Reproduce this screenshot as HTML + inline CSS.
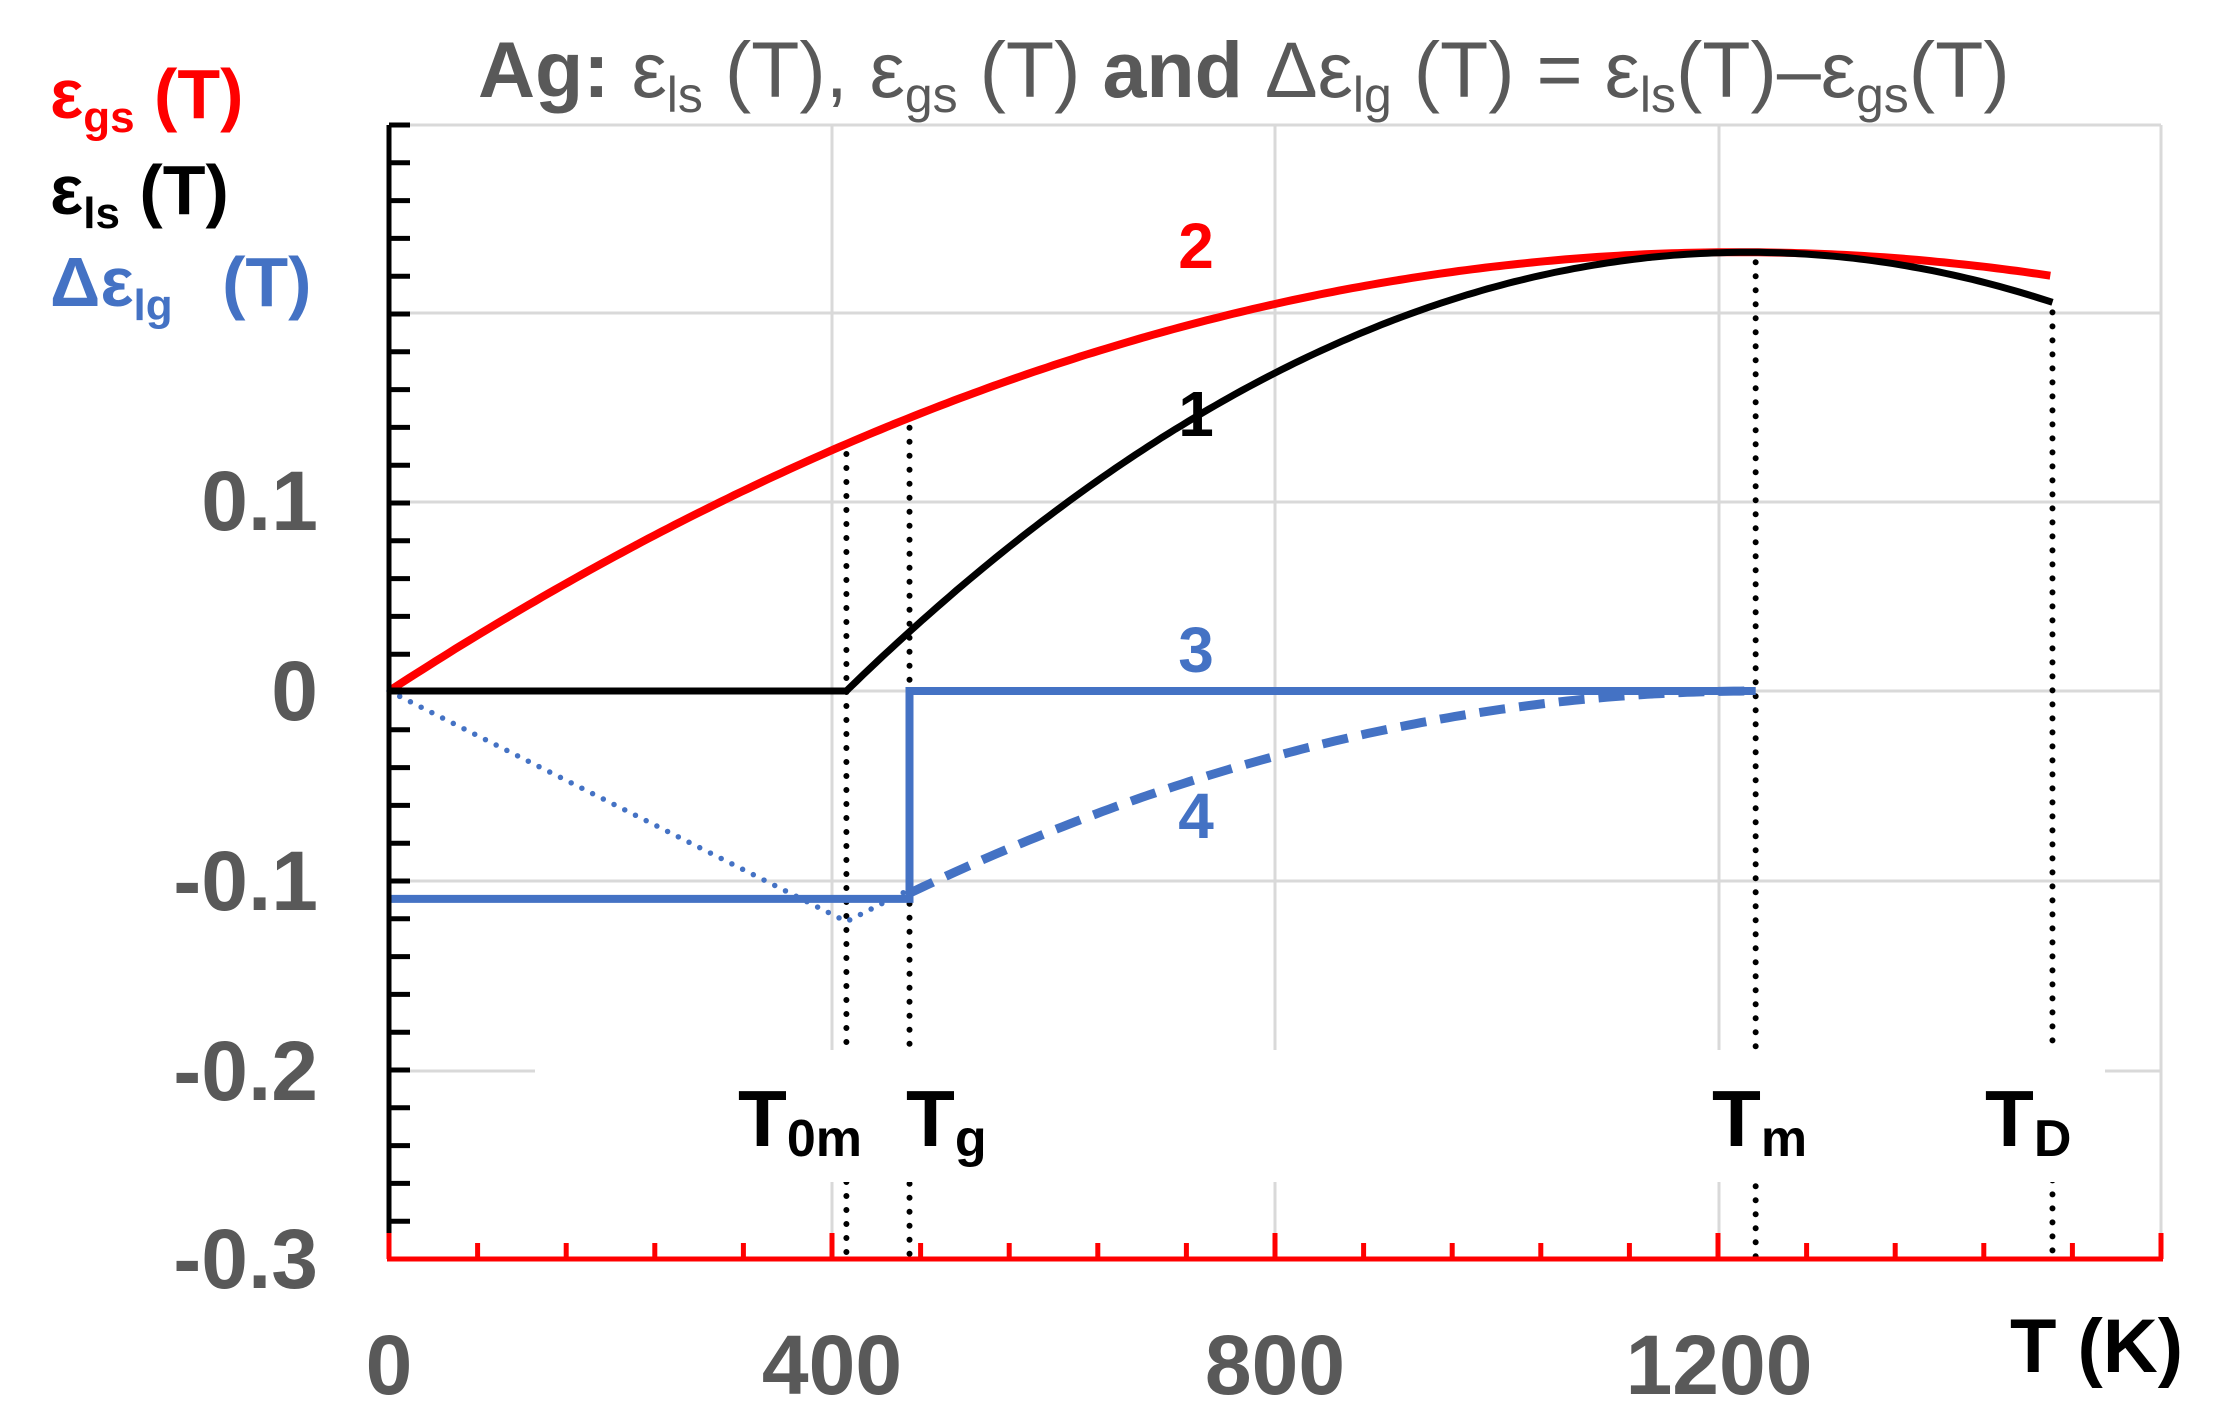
<!DOCTYPE html>
<html><head><meta charset="utf-8"><style>
html,body{margin:0;padding:0;background:#fff;}
svg{display:block;}
text{font-family:"Liberation Sans",Arial,sans-serif;font-weight:bold;}
</style></head><body>
<svg id="s" width="2220" height="1408" viewBox="0 0 2220 1408" xmlns="http://www.w3.org/2000/svg">
<rect width="2220" height="1408" fill="#fff"/>
<g id="grid" stroke="#d9d9d9" stroke-width="3" fill="none">
<line x1="389" y1="125" x2="2161" y2="125"/>
<line x1="389" y1="313" x2="2161" y2="313"/>
<line x1="389" y1="502" x2="2161" y2="502"/>
<line x1="389" y1="691" x2="2161" y2="691"/>
<line x1="389" y1="881" x2="2161" y2="881"/>
<line x1="389" y1="1071" x2="2161" y2="1071"/>
<line x1="832" y1="125" x2="832" y2="1259"/>
<line x1="1275" y1="125" x2="1275" y2="1259"/>
<line x1="1719" y1="125" x2="1719" y2="1259"/>
<line x1="2161" y1="125" x2="2161" y2="1259"/>
</g>
<g id="vd" stroke="#000" stroke-width="6" stroke-linecap="round" stroke-dasharray="0 14" fill="none"></g>
<rect x="535" y="1050" width="1570" height="132" fill="#fff"/>
<g id="curves" fill="none"></g>
<g id="axes"></g>
<g font-size="80" fill="#000">
<text x="738" y="1146">T<tspan font-size="52" dy="10">0m</tspan></text>
<text x="906" y="1146">T<tspan font-size="52" dy="10">g</tspan></text>
<text x="1712" y="1146">T<tspan font-size="52" dy="10">m</tspan></text>
<text x="1985" y="1146">T<tspan font-size="52" dy="10">D</tspan></text>
<text x="2010" y="1372" font-size="76">T (K)</text>
</g>
<g font-size="84" fill="#595959" text-anchor="end">
<text x="318" y="530">0.1</text>
<text x="318" y="720">0</text>
<text x="318" y="910">-0.1</text>
<text x="318" y="1100">-0.2</text>
<text x="318" y="1288">-0.3</text>
</g>
<g font-size="84" fill="#595959" text-anchor="middle">
<text x="389" y="1394">0</text>
<text x="832" y="1394">400</text>
<text x="1275" y="1394">800</text>
<text x="1719" y="1394">1200</text>
</g>
<text x="478" y="97" font-size="79" fill="#595959">Ag: <tspan font-weight="normal">ε<tspan font-size="50" dy="15">ls</tspan><tspan dy="-15"> (T), ε</tspan><tspan font-size="50" dy="15">gs</tspan><tspan dy="-15"> (T) </tspan></tspan>and <tspan font-weight="normal">Δε<tspan font-size="50" dy="15">lg</tspan><tspan dy="-15"> (T) = ε</tspan><tspan font-size="50" dy="15">ls</tspan><tspan dy="-15">(T)–ε</tspan><tspan font-size="50" dy="15">gs</tspan><tspan dy="-15">(T)</tspan></tspan></text>
<text x="50" y="118" font-size="70" fill="#ff0000">ε<tspan font-size="44" dy="14">gs</tspan><tspan dy="-14"> (T)</tspan></text>
<text x="50" y="214" font-size="70" fill="#000">ε<tspan font-size="44" dy="14">ls</tspan><tspan dy="-14"> (T)</tspan></text>
<text x="50" y="306" font-size="70" fill="#4472c4">Δε<tspan font-size="44" dy="14">lg</tspan><tspan dy="-14" dx="30"> (T)</tspan></text>
<g font-size="64" text-anchor="middle">
<text x="1196" y="268" fill="#ff0000">2</text>
<text x="1196" y="436" fill="#000">1</text>
<text x="1196" y="672" fill="#4472c4">3</text>
<text x="1196" y="838" fill="#4472c4">4</text>
</g>
</svg>
<script>
var NS="http://www.w3.org/2000/svg";
function X(T){return 389+T*1.1075;}
function Y(v){return 691-v*1890;}
function red(T){return 3.811e-4*T-1.564e-7*T*T;}
var c=1.833e-7;
function blk(T){var d=(1234-T)/821;return Math.max(0,red(T)-0.1307*d*d);}
function el(p,tag,a){var e=document.createElementNS(NS,tag);for(var k in a)e.setAttribute(k,a[k]);p.appendChild(e);return e;}
var cv=document.getElementById('curves'),ax=document.getElementById('axes'),vd=document.getElementById('vd');
function path(pts){return pts.map(function(p,i){return (i?'L':'M')+p[0].toFixed(1)+' '+p[1].toFixed(1);}).join(' ');}
[[413,red(413)],[470,red(470)],[1234,red(1234)],[1502,blk(1502)]].forEach(function(d){
 el(vd,'line',{x1:X(d[0]),y1:Y(d[1])+10,x2:X(d[0]),y2:1259});});
var p=[];for(var T=0;T<=1502;T+=6)p.push([X(T),Y(red(T))]);
el(cv,'path',{d:path(p),stroke:'#ff0000','stroke-width':8});
p=[[X(0),Y(0)],[X(413),Y(0)]];for(T=416;T<=1502;T+=6)p.push([X(T),Y(blk(T))]);
el(cv,'path',{d:path(p),stroke:'#000','stroke-width':7});
el(cv,'path',{d:path([[X(0),Y(0)],[X(413),Y(-0.122)],[X(470),Y(-0.105)]]),stroke:'#4472c4','stroke-width':5.5,'stroke-linecap':'round','stroke-dasharray':'0 12'});
p=[];for(T=470;T<=1234;T+=6)p.push([X(T),Y(-c*(1234-T)*(1234-T))]);
el(cv,'path',{d:path(p),stroke:'#4472c4','stroke-width':9,'stroke-dasharray':'26 14'});
el(cv,'path',{d:path([[X(0),Y(-0.11)],[X(470),Y(-0.11)],[X(470),Y(0)],[X(1234),Y(0)]]),stroke:'#4472c4','stroke-width':8});
el(ax,'line',{x1:389,y1:125,x2:389,y2:1259,stroke:'#000','stroke-width':5});
for(var k=1;k<=30;k++){var y=1259-k*(1134/30);el(ax,'line',{x1:389,y1:y,x2:410,y2:y,stroke:'#000','stroke-width':5});}
el(ax,'line',{x1:387,y1:1259,x2:2163,y2:1259,stroke:'#ff0000','stroke-width':5});
for(k=0;k<=20;k++){var x=X(k*80);var h=(k%5==0)?26:16;el(ax,'line',{x1:x,y1:1259,x2:x,y2:1259-h,stroke:'#ff0000','stroke-width':5});}
</script>
</body></html>
